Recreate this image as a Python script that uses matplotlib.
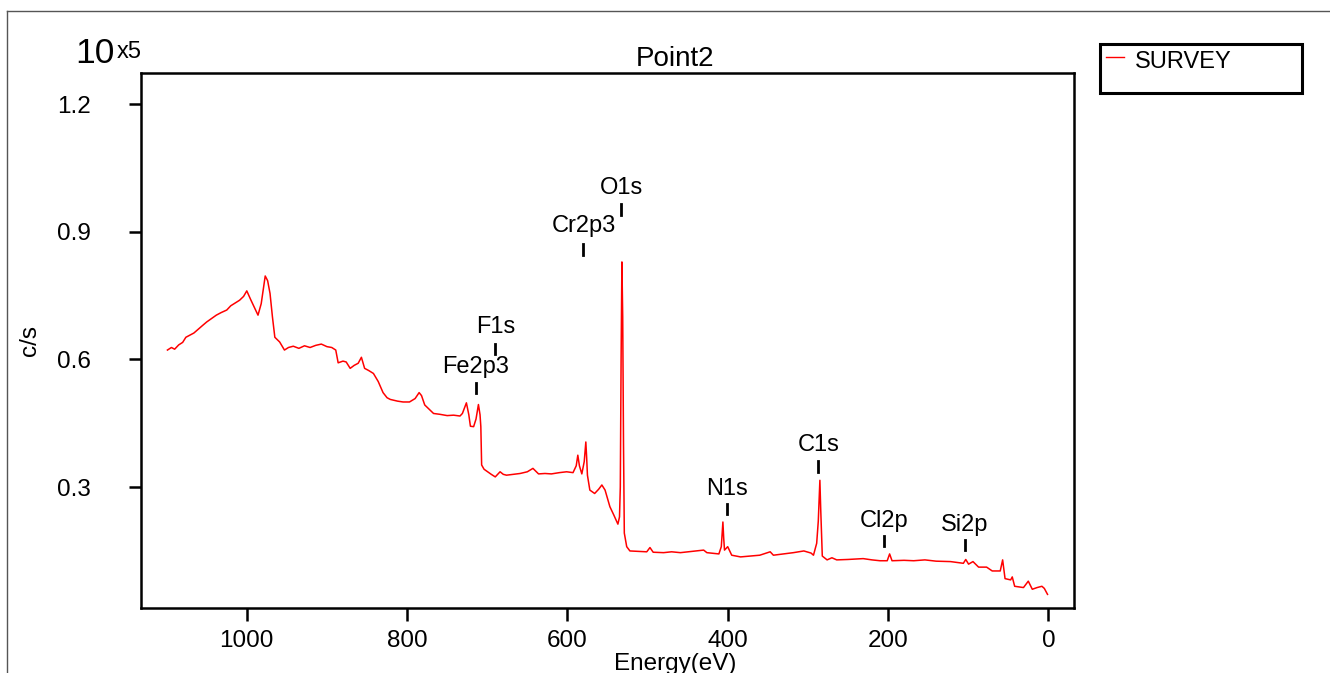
import matplotlib
matplotlib.use("Agg")
import matplotlib.pyplot as plt
from matplotlib.patches import Rectangle
from matplotlib.lines import Line2D

plt.rcParams['font.family'] = ['Liberation Sans', 'DejaVu Sans']

# spectrum (counts in units of 1e5 c/s)
energy = [1099, 1094, 1090, 1085, 1080, 1076, 1071, 1066, 1060, 1055, 1050, 1044, 1038, 1032,
          1025, 1020, 1015, 1009, 1004, 1000, 995, 990, 986, 982, 979, 977, 974, 971, 968, 965,
          959, 953, 948, 942, 935, 928, 921, 914, 907, 900, 894, 889, 886, 880, 876, 871, 866,
          861, 857, 853, 848, 842, 836, 830, 825, 821, 812, 805, 797, 790, 785, 782, 778, 772,
          767, 759, 750, 742, 734, 731, 728, 726, 723, 721, 717, 714, 711, 709, 708, 707, 704,
          701, 695, 690, 684, 680, 676, 668, 659, 650, 643, 636, 628, 620, 610, 601, 593, 589,
          587, 585, 582, 579, 577, 576, 575, 572, 566, 561, 557, 553, 547, 542, 537, 535, 534,
          533, 532, 531, 530, 529, 526, 522, 510, 501, 497, 493, 480, 470, 459, 445, 430, 426,
          411, 408, 406, 405, 404, 400, 395, 384, 372, 360, 347, 343, 330, 318, 305, 296, 293,
          289, 287, 285, 284, 282, 276, 270, 264, 250, 231, 220, 210, 201, 198, 195, 180, 168,
          154, 140, 122, 110, 106, 103, 99.5, 94, 87, 77, 70, 60, 57, 54, 47, 45, 42, 31, 25,
          20, 14, 8, 5, 1]
counts = [0.622, 0.628, 0.624, 0.634, 0.640, 0.652, 0.657, 0.662, 0.672, 0.680, 0.688, 0.696,
          0.704, 0.710, 0.716, 0.726, 0.732, 0.739, 0.748, 0.761, 0.740, 0.720, 0.704, 0.731,
          0.770, 0.796, 0.785, 0.755, 0.700, 0.652, 0.641, 0.622, 0.628, 0.631, 0.626, 0.632,
          0.628, 0.633, 0.636, 0.630, 0.628, 0.622, 0.592, 0.596, 0.594, 0.579, 0.586, 0.591,
          0.605, 0.579, 0.574, 0.567, 0.548, 0.522, 0.510, 0.506, 0.502, 0.500, 0.500, 0.508,
          0.522, 0.515, 0.493, 0.482, 0.473, 0.471, 0.468, 0.469, 0.467, 0.473, 0.488, 0.498,
          0.470, 0.443, 0.442, 0.460, 0.494, 0.470, 0.442, 0.352, 0.342, 0.338, 0.330, 0.324,
          0.336, 0.330, 0.328, 0.330, 0.332, 0.336, 0.344, 0.331, 0.332, 0.331, 0.334, 0.336,
          0.334, 0.350, 0.375, 0.350, 0.331, 0.360, 0.406, 0.370, 0.328, 0.293, 0.285, 0.295,
          0.305, 0.293, 0.254, 0.234, 0.213, 0.230, 0.300, 0.600, 0.829, 0.700, 0.400, 0.192,
          0.160, 0.150, 0.149, 0.148, 0.158, 0.147, 0.146, 0.148, 0.146, 0.149, 0.152, 0.146,
          0.143, 0.160, 0.218, 0.180, 0.152, 0.160, 0.140, 0.136, 0.138, 0.140, 0.148, 0.140,
          0.143, 0.146, 0.150, 0.145, 0.140, 0.168, 0.220, 0.316, 0.250, 0.138, 0.129, 0.134,
          0.129, 0.130, 0.132, 0.129, 0.127, 0.127, 0.143, 0.127, 0.128, 0.127, 0.129, 0.126,
          0.125, 0.122, 0.121, 0.130, 0.119, 0.125, 0.112, 0.112, 0.103, 0.103, 0.129, 0.085,
          0.082, 0.089, 0.067, 0.064, 0.079, 0.060, 0.064, 0.067, 0.062, 0.048]

# peak labels: name, energy, tick bottom, tick top, text centre
peak_names = ['O1s', 'Cr2p3', 'F1s', 'Fe2p3', 'N1s', 'C1s', 'Cl2p', 'Si2p']
peak_ev = [533, 580, 690, 714, 401, 287, 205, 104]
tick_lo = [0.939, 0.845, 0.612, 0.521, 0.237, 0.335, 0.161, 0.152]
tick_hi = [0.965, 0.871, 0.636, 0.544, 0.260, 0.361, 0.185, 0.176]
text_y = [1.002, 0.913, 0.676, 0.582, 0.295, 0.399, 0.220, 0.211]

yticks = [0.3, 0.6, 0.9, 1.2]
xticks = [1000, 800, 600, 400, 200, 0]

fig = plt.figure(figsize=(13.3, 6.73), dpi=100)
ax = fig.add_axes([0.106, 0.0966, 0.7015, 0.795])

ax.plot(energy, counts, color='red', lw=1.1)

for name, e, lo, hi, ty in zip(peak_names, peak_ev, tick_lo, tick_hi, text_y):
    ax.plot([e, e], [lo, hi], color='black', lw=2)
    ax.text(e, ty, name, ha='center', va='center', fontsize=17)

ax.set_xlim(1132, -32)
ax.set_ylim(0.016, 1.273)
ax.set_xticks(xticks)
ax.set_yticks(yticks)
ax.set_yticklabels(['0.3', '0.6', '0.9', '1.2'])
for s in ax.spines.values():
    s.set_linewidth(1.8)
ax.tick_params(direction='out', length=9, width=1.8, labelsize=17.5)
ax.tick_params(axis='y', pad=27)
ax.tick_params(axis='x', pad=7)

# exponent, title and axis labels
fig.text(75 / 1330, 1 - 63 / 673, '10', fontsize=25.5, va='baseline')
fig.text(117 / 1330, 1 - 58 / 673, 'x5', fontsize=17, va='baseline')
fig.text(675 / 1330, 1 - 59 / 673, 'Point2', fontsize=20, ha='center', va='center')
fig.text(30 / 1330, 1 - 340 / 673, 'c/s', fontsize=17.5, rotation=90, ha='center', va='center')
fig.text(675 / 1330, 1 - 653 / 673, 'Energy(eV)', fontsize=17.5, ha='center', va='top')

# legend box
fig.patches.append(Rectangle((1100 / 1330, 1 - 93 / 673), 202 / 1330, 49 / 673,
                             transform=fig.transFigure, fill=False, edgecolor='black', lw=2.2))
fig.lines.append(Line2D([1106 / 1330, 1124 / 1330], [1 - 57 / 673, 1 - 57 / 673],
                        transform=fig.transFigure, color='red', lw=1))
fig.text(1135 / 1330, 1 - 62 / 673, 'SURVEY', fontsize=17, va='center')

# outer frame
fig.lines.append(Line2D([7 / 1330, 1], [1 - 11 / 673, 1 - 11 / 673],
                        transform=fig.transFigure, color='#555555', lw=1))
fig.lines.append(Line2D([7 / 1330, 7 / 1330], [0, 1 - 11 / 673],
                        transform=fig.transFigure, color='#555555', lw=1))

fig.savefig('out.png', dpi=100)
